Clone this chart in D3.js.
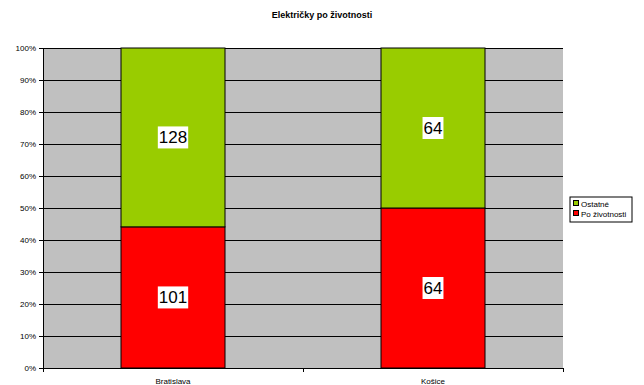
<!DOCTYPE html>
<html>
<head>
<meta charset="utf-8">
<script src="https://cdn.jsdelivr.net/npm/d3@7"></script>
<style>
  body { margin: 0; background: #fff; }
  text { font-family: Arial, "Liberation Sans", sans-serif; fill: #000; }
</style>
</head>
<body>
<script>
// data
var cities = ["Bratislava", "Košice"];
var seriesNames = ["Po životnosti", "Ostatné"];
var poZivotnosti = [101, 64];
var ostatne = [128, 64];
var yTicks = [0, 0.1, 0.2, 0.3, 0.4, 0.5, 0.6, 0.7, 0.8, 0.9, 1];
var colors = ["#FF0000", "#99CC00"];

var svgWidth = 644, svgHeight = 385;
var marginLeft = 43, marginTop = 48, plotW = 520, plotH = 320;

var svg = d3.select("body").append("svg")
    .attr("width", svgWidth)
    .attr("height", svgHeight);

svg.append("text")
    .attr("x", 322).attr("y", 18)
    .attr("text-anchor", "middle")
    .attr("font-size", "9px")
    .attr("font-weight", "bold")
    .text("Električky po životnosti");

var g = svg.append("g").attr("transform", `translate(${marginLeft},${marginTop})`);

var x = d3.scaleBand().domain(cities).range([0, plotW]).paddingInner(0.6).paddingOuter(0.3);
var y = d3.scaleLinear().domain([0, 1]).range([plotH, 0]);

g.append("rect")
    .attr("width", plotW).attr("height", plotH)
    .attr("fill", "#C0C0C0");

// gridlines
g.selectAll(".grid").data(yTicks.slice(1)).enter().append("line")
    .attr("x1", 0).attr("x2", plotW)
    .attr("y1", d => Math.round(y(d)) + 0.5).attr("y2", d => Math.round(y(d)) + 0.5)
    .attr("stroke", "#000").attr("stroke-width", 1);

var table = cities.map((c, i) => ({city: c, po: poZivotnosti[i], ost: ostatne[i]}));
var stack = d3.stack().keys(["po", "ost"]).offset(d3.stackOffsetExpand)(table);

var layers = g.selectAll(".layer").data(stack).enter().append("g")
    .attr("fill", (d, i) => colors[i]);

layers.selectAll("rect").data(d => d).enter().append("rect")
    .attr("x", d => x(d.data.city))
    .attr("y", d => y(d[1]))
    .attr("width", x.bandwidth())
    .attr("height", d => y(d[0]) - y(d[1]))
    .attr("stroke", "#000")
    .attr("stroke-width", 1);

// value labels
stack.forEach(function(layer) {
    layer.forEach(function(d) {
        var val = d.data[layer.key];
        var cx = x(d.data.city) + x.bandwidth() / 2;
        var cy = (y(d[0]) + y(d[1])) / 2;
        var lbl = g.append("g");
        var t = lbl.append("text")
            .attr("x", cx).attr("y", cy + 6)
            .attr("text-anchor", "middle")
            .attr("font-size", "17px")
            .text(val);
        var bb = t.node().getBBox();
        lbl.insert("rect", "text")
            .attr("x", bb.x - 1).attr("y", cy - 11)
            .attr("width", bb.width + 2).attr("height", 22)
            .attr("fill", "#fff");
    });
});

// axes
var yAxis = d3.axisLeft(y).tickValues(yTicks).tickFormat(d3.format(".0%")).tickSize(4);
g.append("g").call(yAxis)
    .call(a => a.select(".domain").attr("stroke", "#000"))
    .selectAll("text").attr("font-size", "8px").attr("font-family", "Arial, 'Liberation Sans', sans-serif");

var xAxisG = g.append("g").attr("transform", `translate(0,${plotH})`);
xAxisG.append("line").attr("x1", 0).attr("x2", plotW).attr("y1", 0.5).attr("y2", 0.5).attr("stroke", "#000");
[0, plotW / 2, plotW].forEach(function(px) {
    xAxisG.append("line").attr("x1", px + 0.5).attr("x2", px + 0.5).attr("y1", 0).attr("y2", 4).attr("stroke", "#000");
});
xAxisG.selectAll(".cat").data(cities).enter().append("text")
    .attr("x", d => x(d) + x.bandwidth() / 2)
    .attr("y", 16)
    .attr("text-anchor", "middle")
    .attr("font-size", "8px")
    .text(d => d);

// legend
var legend = svg.append("g").attr("transform", "translate(570,197)");
legend.append("rect").attr("width", 62).attr("height", 25)
    .attr("fill", "#fff").attr("stroke", "#000");
var legendItems = [seriesNames[1], seriesNames[0]];
var legendColors = [colors[1], colors[0]];
legendItems.forEach(function(name, i) {
    legend.append("rect")
        .attr("x", 3.5).attr("y", 3.5 + i * 10).attr("width", 5).attr("height", 5)
        .attr("fill", legendColors[i]).attr("stroke", "#000");
    legend.append("text")
        .attr("x", 11).attr("y", 9.5 + i * 10)
        .attr("font-size", "8px")
        .text(name);
});
</script>
</body>
</html>
